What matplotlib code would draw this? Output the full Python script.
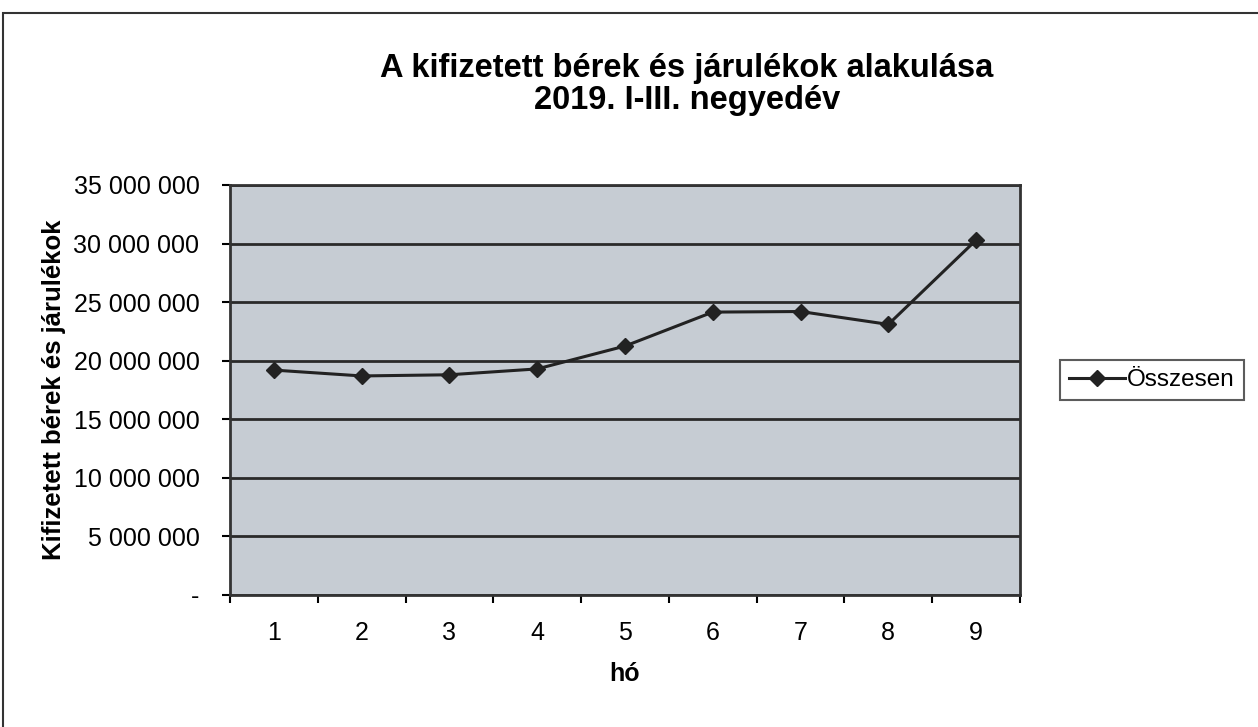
import matplotlib.pyplot as plt
from matplotlib.ticker import FuncFormatter, MultipleLocator

plt.rcParams['font.family'] = ['Liberation Sans', 'DejaVu Sans']

# havi adatok
months = [1, 2, 3, 4, 5, 6, 7, 8, 9]
osszesen = [19200000, 18700000, 18800000, 19300000, 21250000,
            24150000, 24200000, 23100000, 30300000]

title_1 = 'A kifizetett bérek és járulékok alakulása'
title_2 = '2019. I-III. negyedév'
ylabel = 'Kifizetett bérek és járulékok'
xlabel = 'hó'
series_name = 'Összesen'


def fmt(v, pos):
    if v == 0:
        return '-'
    return f'{int(v):,}'.replace(',', ' ')


fig = plt.figure(figsize=(12.58, 7.27), dpi=100)
ax = fig.add_axes([230 / 1258, 1 - 595 / 727, 790 / 1258, 410 / 727])

ax.set_facecolor('#c6ccd3')
ax.plot(months, osszesen, color='#222222', lw=2.2, marker='D', ms=8,
        label=series_name)

ax.set_xlim(0.5, 9.5)
ax.set_ylim(0, 35000000)
ax.yaxis.set_major_locator(MultipleLocator(5000000))
ax.yaxis.set_major_formatter(FuncFormatter(fmt))
ax.set_xticks(months)
ax.set_xticks([m + 0.5 for m in [0] + months], minor=True)
ax.tick_params(axis='x', which='major', length=0, pad=19, labelsize=18)
ax.tick_params(axis='x', which='minor', length=6, width=1.5, direction='out')
ax.tick_params(axis='y', length=6, width=1.5, labelsize=18, pad=16)

ax.grid(axis='y', color='#2a2a2a', lw=2)
for s in ax.spines.values():
    s.set_color('#333333')
    s.set_linewidth(2)

ax.set_ylabel(ylabel, fontsize=18.5, fontweight='bold', labelpad=5)
ax.set_xlabel(xlabel, fontsize=18, fontweight='bold', labelpad=12)
fig.text(0.546, 1 - 68 / 727, title_1, ha='center', va='center',
         fontsize=23.5, fontweight='bold')
fig.text(0.546, 1 - 101 / 727, title_2, ha='center', va='center',
         fontsize=23.5, fontweight='bold')

leg = fig.legend(loc='center', bbox_to_anchor=(1152 / 1258, 1 - 380 / 727),
                 frameon=True, fancybox=False, fontsize=17.5, handlelength=2.3,
                 handletextpad=0.1, borderpad=0.35, borderaxespad=0)
leg.get_frame().set_edgecolor('#333333')
leg.get_frame().set_linewidth(1.5)

# keret a diagram körül
fig.add_artist(plt.Rectangle((3 / 1258, -0.01), 1.1, 1 - 13 / 727 + 0.01,
                             transform=fig.transFigure, fill=False,
                             edgecolor='#333333', lw=1.5))

fig.savefig('out.png', dpi=100, facecolor='white')
